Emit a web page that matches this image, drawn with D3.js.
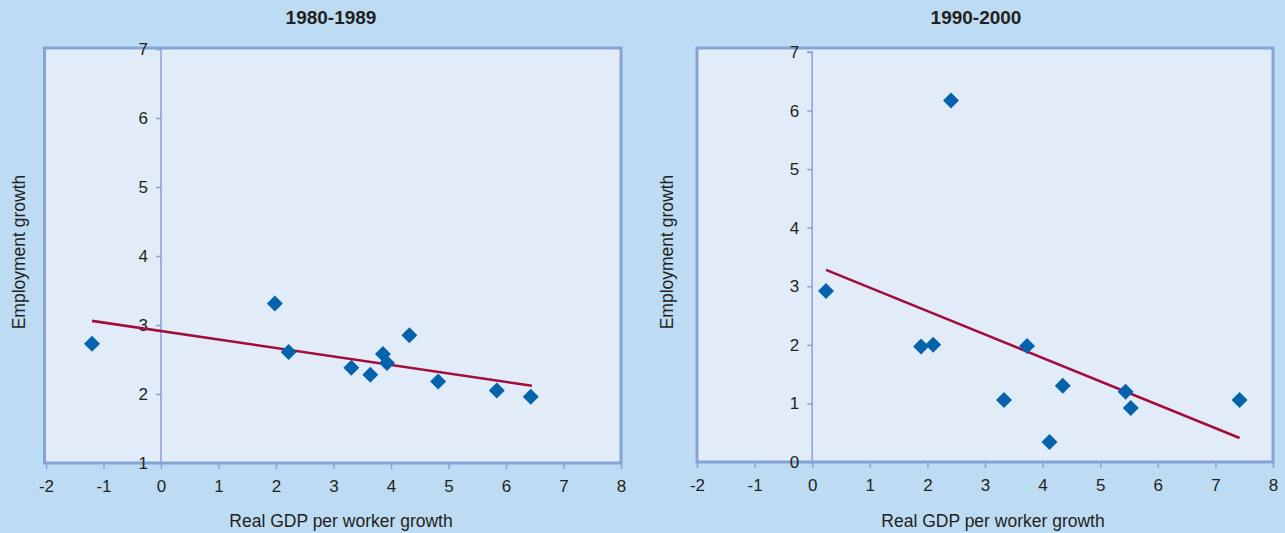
<!DOCTYPE html>
<html><head><meta charset="utf-8">
<script src="https://cdn.jsdelivr.net/npm/d3@7/dist/d3.min.js"></script>
<style>
html,body{margin:0;padding:0;background:#bddcf4;}
svg{display:block;}
text{font-family:"Liberation Sans",Arial,sans-serif;fill:#231f20;}
</style></head>
<body>
<svg id="c" width="1285" height="533"></svg>
<script>
// ---- data ----
const titles = ["1980-1989", "1990-2000"];
const xTicks = [-2, -1, 0, 1, 2, 3, 4, 5, 6, 7, 8];
const yTicksA = [1, 2, 3, 4, 5, 6, 7];
const yTicksB = [0, 1, 2, 3, 4, 5, 6, 7];
const xA = [-1.2, 1.98, 2.22, 3.31, 3.64, 3.86, 3.93, 4.32, 4.82, 5.84, 6.43];
const yA = [2.73, 3.31, 2.61, 2.38, 2.28, 2.58, 2.45, 2.85, 2.18, 2.05, 1.96];
const trendA = [[-1.2, 3.06], [6.45, 2.12]];
const xB = [0.24, 1.89, 2.10, 2.41, 3.33, 3.73, 4.12, 4.35, 5.44, 5.53, 7.42];
const yB = [2.92, 1.97, 2.00, 6.17, 1.06, 1.98, 0.34, 1.30, 1.20, 0.92, 1.06];
const trendB = [[0.24, 3.28], [7.42, 0.41]];
const xLabel = "Real GDP per worker growth";
const yLabel = "Employment growth";

const svg = d3.select("#c");

const panels = [
  {title: titles[0], xs: xA, ys: yA, trend: trendA, yTicks: yTicksA, yDom: [1, 7],
   frameL: 44.5, left: 46, right: 621, top: 48, bottom: 463, yTop: 49, titleX: 331, ylabX: 19, xlabX: 341},
  {title: titles[1], xs: xB, ys: yB, trend: trendB, yTicks: yTicksB, yDom: [0, 7],
   frameL: 697, left: 697, right: 1273, top: 48, bottom: 462, yTop: 52, titleX: 976, ylabX: 667, xlabX: 993}
];

const frameColor = "#84a3d7";
const font = '"Liberation Sans",Arial,sans-serif';

panels.forEach(p => {
  const g = svg.append("g");
  const x = d3.scaleLinear().domain([-2, 8]).range([p.left, p.right]);
  const y = d3.scaleLinear().domain(p.yDom).range([p.bottom, p.yTop]);

  // plot area
  g.append("rect").attr("x", p.frameL).attr("y", p.top)
    .attr("width", p.right - p.frameL).attr("height", p.bottom - p.top)
    .attr("fill", "#e2ecf8").attr("stroke", frameColor).attr("stroke-width", 3);

  // x axis ticks at bottom
  const xAxis = d3.axisBottom(x).tickValues(xTicks).tickSize(5).tickPadding(11)
    .tickFormat(d3.format("d"));
  const gx = g.append("g").attr("transform", `translate(0,${p.bottom + 1})`).call(xAxis);
  gx.select(".domain").remove();
  gx.selectAll("line").attr("stroke", frameColor).attr("stroke-width", 1.5);
  gx.selectAll("text").attr("font-size", 17).attr("fill", "#231f20")
    .style("font-family", font)
    .text(d => d < 0 ? "-" + Math.abs(d) : d);

  // y axis at x=0
  const yAxis = d3.axisLeft(y).tickValues(p.yTicks).tickSize(5).tickPadding(8)
    .tickFormat(d3.format("d"));
  const gy = g.append("g").attr("transform", `translate(${x(0)},0)`).call(yAxis);
  gy.select(".domain").attr("stroke", frameColor).attr("stroke-width", 1.5)
    .attr("d", `M-5,${y(p.yDom[1])}H0V${p.bottom}`);
  gy.selectAll("line").attr("stroke", frameColor).attr("stroke-width", 1.5);
  gy.selectAll("text").attr("font-size", 17).attr("fill", "#231f20")
    .style("font-family", font);

  // trend line
  g.append("path").datum(p.trend)
    .attr("d", d3.line().x(d => x(d[0])).y(d => y(d[1])))
    .attr("fill", "none").attr("stroke", "#a20d3d").attr("stroke-width", 2.6);

  // diamonds
  const sym = d3.symbol().type(d3.symbolSquare).size(128);
  g.selectAll("path.pt").data(p.xs.map((v, i) => [v, p.ys[i]])).join("path")
    .attr("class", "pt")
    .attr("d", sym)
    .attr("transform", d => `translate(${x(d[0])},${y(d[1])}) rotate(45)`)
    .attr("fill", "#0563ad");

  // title
  g.append("text").attr("x", p.titleX).attr("y", 24).attr("text-anchor", "middle")
    .attr("font-size", 19).attr("font-weight", "bold").text(p.title);

  // axis labels
  g.append("text").attr("x", p.xlabX).attr("y", 527).attr("text-anchor", "middle")
    .attr("font-size", 17.5).attr("fill", "#333").text(xLabel);
  g.append("text").attr("transform", `translate(${p.ylabX + 6},252) rotate(-90)`)
    .attr("text-anchor", "middle").attr("font-size", 17.5).attr("fill", "#333").text(yLabel);
});
</script>
</body></html>
